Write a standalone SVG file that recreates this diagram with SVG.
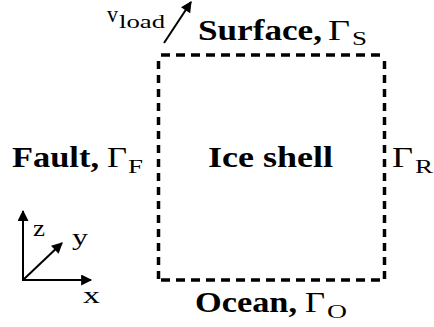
<svg xmlns="http://www.w3.org/2000/svg" width="434" height="327" viewBox="0 0 434 327">
<defs>
<marker id="ah" viewBox="0 0 10 10" refX="9" refY="5" markerWidth="6.5" markerHeight="5.5" orient="auto" markerUnits="strokeWidth">
<path d="M0,0 L10,5 L0,10 z" fill="#000"/>
</marker>
</defs>
<style>
text{font-family:'Liberation Serif','DejaVu Serif','Times New Roman',serif;fill:#000}
.b{font-weight:bold;font-size:29px}
.r{font-size:29px}
.s{font-size:19px}
.ax{font-size:23px}
.d{stroke:#000;stroke-width:3.5;fill:none}
.h{stroke-dasharray:9 6}
.v{stroke-dasharray:8 6}
.a{stroke:#000;stroke-width:2;fill:none;marker-end:url(#ah)}
</style>
<g id="ice-shell">
<text class="b" x="208" y="167" textLength="125" lengthAdjust="spacingAndGlyphs">Ice shell</text>
</g>
<g id="connectors">
<line class="d h" x1="161" y1="55" x2="386" y2="55"/>
<line class="d v" x1="158.5" y1="61" x2="158.5" y2="280"/>
<line class="d v" x1="384.5" y1="61" x2="384.5" y2="280"/>
<line class="d h" x1="161" y1="280" x2="386" y2="280"/>
<line class="a" x1="164" y1="43" x2="191" y2="2"/>
<line class="a" x1="23" y1="281" x2="23" y2="211"/>
<line class="a" x1="22" y1="280" x2="91" y2="280"/>
<line class="a" x1="23" y1="280" x2="62" y2="243"/>
</g>
<g id="surface">
<text class="b" x="198" y="40" textLength="124" lengthAdjust="spacingAndGlyphs">Surface,</text>
<text class="r" x="328" y="40" textLength="22" lengthAdjust="spacingAndGlyphs">Γ</text>
<text class="s" x="352" y="45" textLength="15" lengthAdjust="spacingAndGlyphs">S</text>
</g>
<g id="vload">
<text class="ax" x="107" y="22" textLength="11" lengthAdjust="spacingAndGlyphs">v</text>
<text class="s" x="119" y="28" textLength="46" lengthAdjust="spacingAndGlyphs">load</text>
</g>
<g id="fault">
<text class="b" x="12" y="167" textLength="87" lengthAdjust="spacingAndGlyphs">Fault,</text>
<text class="r" x="107" y="167" textLength="20" lengthAdjust="spacingAndGlyphs">Γ</text>
<text class="s" x="128" y="173" textLength="15" lengthAdjust="spacingAndGlyphs">F</text>
</g>
<g id="right">
<text class="r" x="392" y="167" textLength="21" lengthAdjust="spacingAndGlyphs">Γ</text>
<text class="s" x="415" y="173" textLength="18" lengthAdjust="spacingAndGlyphs">R</text>
</g>
<g id="ocean">
<text class="b" x="195" y="312" textLength="102" lengthAdjust="spacingAndGlyphs">Ocean,</text>
<text class="r" x="305" y="312" textLength="20" lengthAdjust="spacingAndGlyphs">Γ</text>
<text class="s" x="327" y="318" textLength="20" lengthAdjust="spacingAndGlyphs">O</text>
</g>
<g id="axes">
<text class="ax" x="33" y="236" textLength="12" lengthAdjust="spacingAndGlyphs">z</text>
<text class="ax" x="72" y="245" textLength="16" lengthAdjust="spacingAndGlyphs">y</text>
<text class="ax" x="83" y="303" textLength="17" lengthAdjust="spacingAndGlyphs">x</text>
</g>
</svg>
